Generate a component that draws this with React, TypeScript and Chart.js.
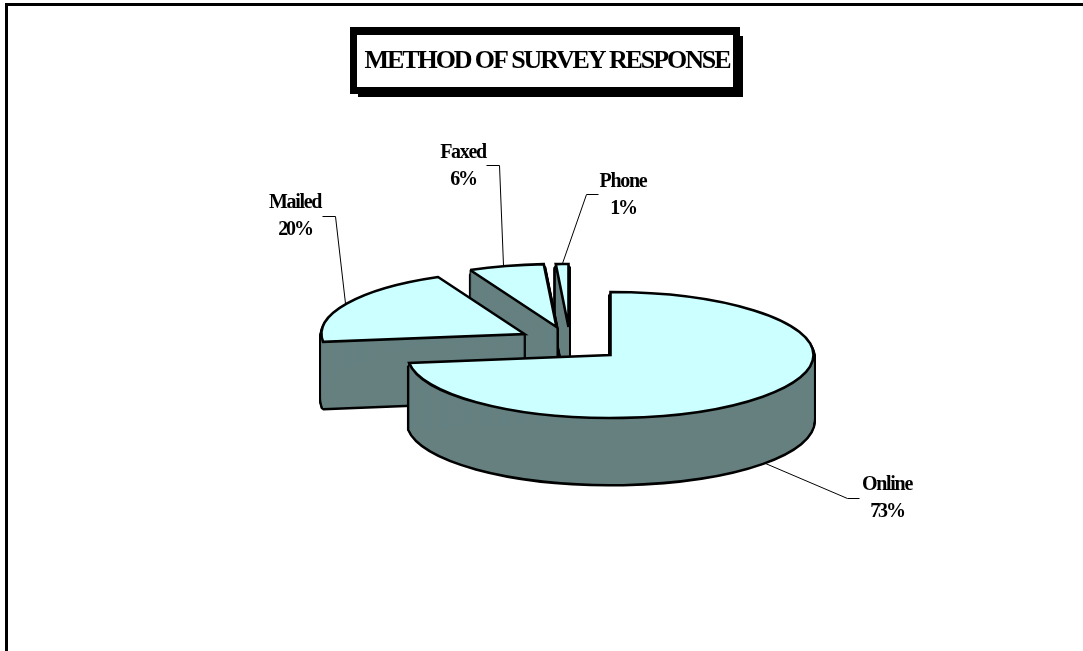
import React, { useEffect, useRef } from "react";
import { Chart, ArcElement, registerables } from "chart.js";

Chart.register(...registerables);

const chartTitle = "METHOD OF SURVEY RESPONSE";
const methods = ["Online", "Mailed", "Faxed", "Phone"];
const responseShares = [73, 20, 6, 1];

// Slice separation on screen, [dx, dy] per method.
const sliceShifts = [
  [0, 0],
  [-86, -21],
  [-54, -28],
  [-42, -28],
];

// Leader polylines from each slice to its label.
const leaders = [
  [[765, 463], [847, 498], [859, 498]],
  [[345, 303], [335, 216], [322, 216]],
  [[503, 265], [499, 165], [486, 165]],
  [[562, 263], [586, 194], [598, 194]],
];
const labelAnchors = [
  [887, 485],
  [295, 203],
  [463, 153],
  [623, 182],
];

const TOP_COLOR = "#CCFFFF";
const WALL_COLOR = "#668080";
const TILT = 63 / 203;
const DEPTH = 66;

// Runs a draw callback whose path is built under the tilt transform while
// its pen stays round, so outlines keep one width all the way round.
function withTilt(ctx: any, cx: number, cy: number, dx: number, dy: number, draw: () => void) {
  ctx.save();
  ctx.translate(cx + dx, cy + dy);
  ctx.scale(1, TILT);
  ctx.translate(-cx, -cy);
  const baseStroke = ctx.stroke;
  ctx.stroke = function () {
    ctx.save();
    ctx.setTransform(1, 0, 0, 1, 0, 0);
    baseStroke.call(ctx);
    ctx.restore();
  };
  draw();
  delete ctx.stroke;
  ctx.restore();
}

function styledArc(arc: any, fill: string, borderWidth: number, join: string) {
  return new (ArcElement as any)({
    x: arc.x,
    y: arc.y,
    startAngle: arc.startAngle,
    endAngle: arc.endAngle,
    innerRadius: arc.innerRadius,
    outerRadius: arc.outerRadius,
    circumference: arc.circumference,
    options: {
      ...arc.options,
      backgroundColor: fill,
      borderColor: "#000000",
      borderWidth,
      borderJoinStyle: join,
      borderRadius: 0,
      offset: 0,
      spacing: 0,
    },
  });
}

const tiltedPie = {
  id: "tiltedPie",
  beforeDatasetsDraw(chart: any) {
    const ctx = chart.ctx;
    const arcs = chart.getDatasetMeta(0).data;
    [3, 2, 1, 0].forEach((i) => {
      const arc = arcs[i];
      const [sx, sy] = sliceShifts[i];
      const outline = styledArc(arc, "#000000", 5, "bevel");
      const wall = styledArc(arc, WALL_COLOR, 0, "bevel");
      const top = styledArc(arc, TOP_COLOR, 2.6, "miter");
      for (let d = 3; d <= DEPTH; d++) {
        withTilt(ctx, arc.x, arc.y, sx, sy + d, () => outline.draw(ctx));
      }
      for (let d = 0; d <= DEPTH; d++) {
        withTilt(ctx, arc.x, arc.y, sx, sy + d, () => wall.draw(ctx));
      }
      withTilt(ctx, arc.x, arc.y, sx, sy, () => top.draw(ctx));
    });
    return false;
  },
};

const annotations = {
  id: "annotations",
  beforeDraw(chart: any) {
    const ctx = chart.ctx;
    ctx.save();
    ctx.fillStyle = "#ffffff";
    ctx.fillRect(0, 0, chart.width, chart.height);
    ctx.fillStyle = "#000000";
    // Page frame
    ctx.fillRect(5, 3, 3, chart.height - 3);
    ctx.fillRect(5, 3, chart.width - 5, 3);
    // Title box with drop shadow
    ctx.fillRect(358, 36, 385, 61);
    ctx.fillRect(350, 27, 390, 67);
    ctx.fillStyle = "#ffffff";
    ctx.fillRect(357, 35, 376, 52);
    ctx.restore();
  },
  afterDraw(chart: any) {
    const ctx = chart.ctx;
    ctx.save();
    ctx.fillStyle = "#000000";
    ctx.textAlign = "center";
    ctx.textBaseline = "middle";
    ctx.font = "bold 26px 'Liberation Serif'";
    ctx.letterSpacing = "-2.1px";
    ctx.fillText(chartTitle, 547, 61);

    ctx.strokeStyle = "#000000";
    ctx.lineWidth = 1;
    leaders.forEach((pts) => {
      ctx.beginPath();
      pts.forEach(([x, y], k) => (k ? ctx.lineTo(x + 0.5, y + 0.5) : ctx.moveTo(x + 0.5, y + 0.5)));
      ctx.stroke();
    });

    ctx.font = "bold 20px 'Liberation Serif'";
    chart.data.labels.forEach((label: string, i: number) => {
      const [x, y] = labelAnchors[i];
      ctx.letterSpacing = "-1.3px";
      ctx.fillText(label, x, y);
      ctx.letterSpacing = "-2.2px";
      ctx.fillText(`${chart.data.datasets[0].data[i]}%`, x, y + 27);
    });
    ctx.restore();
  },
};

export default function App() {
  const ref = useRef<HTMLCanvasElement>(null);
  useEffect(() => {
    const chart = new Chart(ref.current!, {
      type: "pie",
      data: {
        labels: methods,
        datasets: [{ data: responseShares, backgroundColor: TOP_COLOR, borderColor: "#000000", radius: 203 }],
      },
      options: {
        animation: false,
        responsive: false,
        layout: { padding: { left: 138, top: 59 } },
        plugins: { legend: { display: false }, tooltip: { enabled: false }, title: { display: false } },
      },
      plugins: [annotations, tiltedPie],
    } as any);
    return () => chart.destroy();
  }, []);
  return (
    <div style={{ position: "absolute", left: 0, top: 0, width: 1083, height: 651 }}>
      <canvas ref={ref} width={1083} height={651} style={{ display: "block" }} />
    </div>
  );
}
